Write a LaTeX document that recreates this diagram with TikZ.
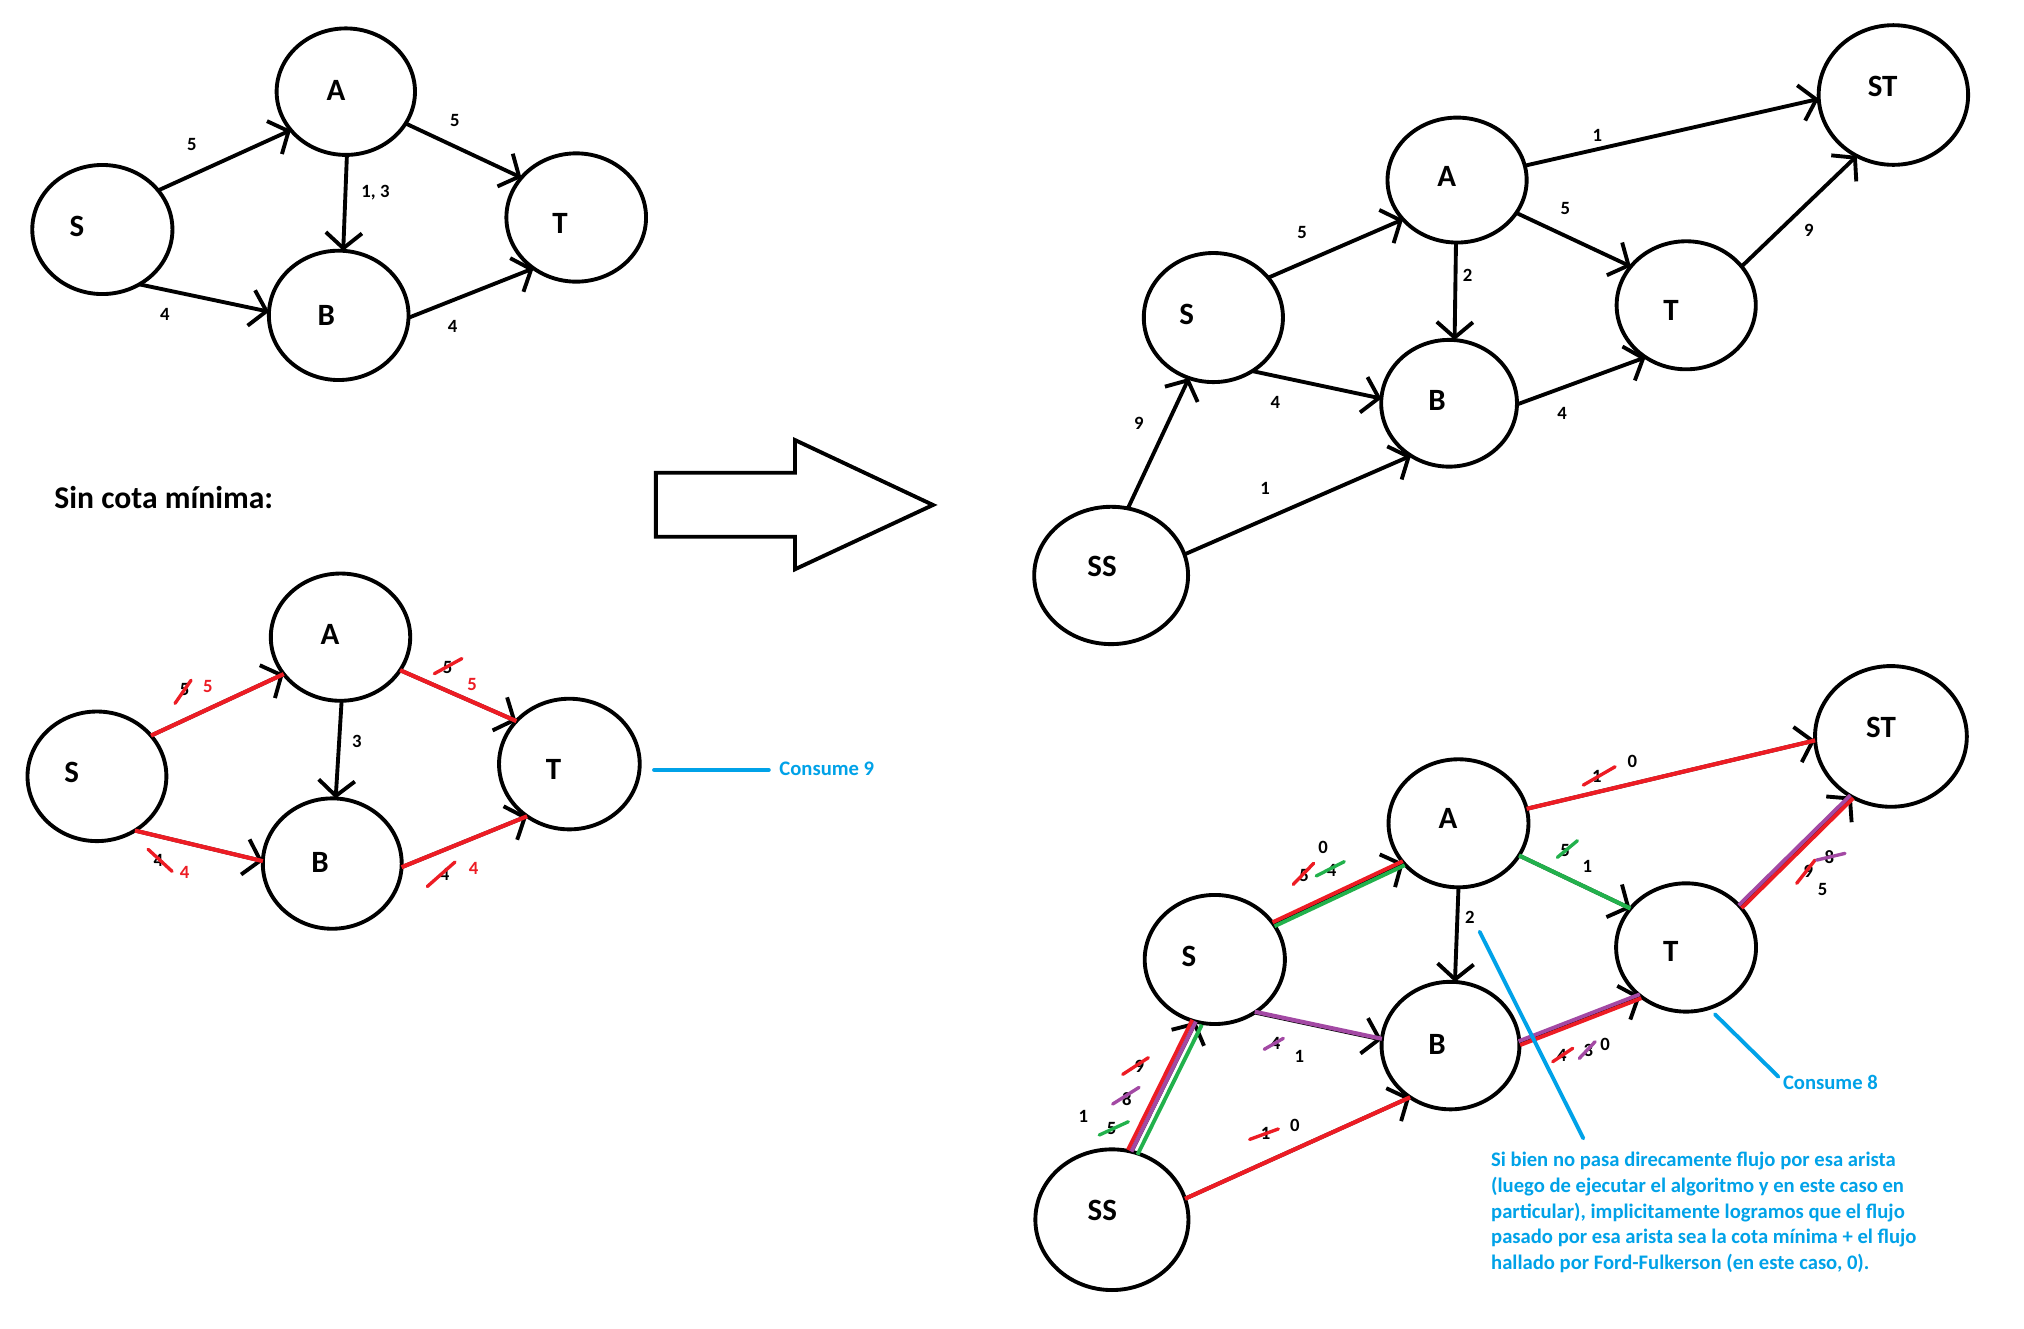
\documentclass[tikz,border=0pt]{standalone}
\usepackage{fontspec}
\setmainfont{Carlito}
\usetikzlibrary{arrows.meta,shapes.geometric}
\definecolor{pred}{HTML}{ED1C24}
\definecolor{pgreen}{HTML}{22B14C}
\definecolor{ppurple}{HTML}{A349A4}
\definecolor{pblue}{HTML}{00A2E8}
\begin{document}
\begin{tikzpicture}[x=1pt,y=-1pt,
  ell/.style={draw,ellipse,line width=3pt,inner sep=0pt,outer sep=0pt},
  nl/.style={inner sep=0pt,font=\fontsize{24}{28}\selectfont\bfseries},
  el/.style={inner sep=0pt,font=\fontsize{14.5}{17}\selectfont\bfseries},
  elr/.style={el,text=pred},
  edg/.style={line width=3pt,-{Straight Barb[length=12pt,width=28pt]}},
  ovred/.style={line width=3.2pt,draw=pred},
  ovgreen/.style={line width=3.2pt,draw=pgreen},
  ovpurple/.style={line width=3.2pt,draw=ppurple},
  slr/.style={line width=2.6pt,line cap=round,draw=pred},
  slg/.style={line width=2.6pt,line cap=round,draw=pgreen},
  slp/.style={line width=2.6pt,line cap=round,draw=ppurple},
  bline/.style={line width=3pt,line cap=round,draw=pblue},
  btext/.style={inner sep=0pt,text=pblue,font=\fontsize{16}{20}\selectfont\bfseries}
  ]
\fill[white] (0,0) rectangle (1568,1029);

% ===== top-left graph =====
\node[ell,minimum width=107.2pt,minimum height=98pt] (tlA) at (267.9,71) {};
\node[ell,minimum width=108.6pt,minimum height=100pt] (tlS) at (79.3,177.8) {};
\node[ell,minimum width=108.2pt,minimum height=100.2pt] (tlB) at (262.4,244.3) {};
\node[ell,minimum width=108.2pt,minimum height=99.4pt] (tlT) at (446.4,168.5) {};
\node[nl] (tlAl) at (260.3,69.7) {A};
\node[nl] (tlSl) at (59.7,175.6) {S};
\node[nl] (tlBl) at (252.7,244) {B};
\node[nl] (tlTl) at (433.9,173) {T};
\draw[edg] (tlS.35) -- (tlA.215);
\draw[edg] (tlA.-28) -- (tlT.144);
\draw[edg] (tlA.-89) -- (tlB.86);
\draw[edg] (tlS.-56) -- (tlB.177);
\draw[edg] (tlB.-2) -- (tlT.-130);
\node[el] (tle1) at (148.6,112.3) {5};
\node[el] (tle2) at (352.3,93.5) {5};
\node[el] (tle3) at (290.9,149.3) {1, 3};
\node[el] (tle4) at (127.7,243.3) {4};
\node[el] (tle5) at (350.6,252.6) {4};

% ===== title =====
\node[anchor=base west,inner sep=0pt,font=\fontsize{24.5}{28}\selectfont\bfseries] (title) at (42,393.8) {Sin cota mínima:};

% ===== big arrow =====
\draw[line width=3pt] (508.1,366.2) -- (615.9,366.2) -- (615.9,340.9) -- (722.8,391.2) -- (615.9,441) -- (615.9,415.8) -- (508.1,415.8) -- cycle;

% ===== bottom-left graph =====
\node[ell,minimum width=108pt,minimum height=98.6pt] (blA) at (263.8,493.6) {};
\node[ell,minimum width=107.6pt,minimum height=100.4pt] (blS) at (75.1,601.4) {};
\node[ell,minimum width=107.6pt,minimum height=101pt] (blB) at (257.4,669) {};
\node[ell,minimum width=109pt,minimum height=101.2pt] (blT) at (441.1,591.9) {};
\node[nl] (blAl) at (255.6,491.7) {A};
\node[nl] (blSl) at (55.6,598.7) {S};
\node[nl] (blBl) at (248,668.1) {B};
\node[nl] (blTl) at (428.9,596.1) {T};
\draw[edg] (blS.37) -- (blA.213);
\draw[edg] (blA.-29) -- (blT.141);
\draw[edg] (blA.-89) -- (blB.87);
\draw[edg] (blS.-55) -- (blB.178);
\draw[edg] (blB.-3) -- (blT.-129);
\draw[ovred] (blS.37) -- (blA.213);
\draw[ovred] (blA.-29) -- (blT.141);
\draw[ovred] (blS.-55) -- (blB.178);
\draw[ovred] (blB.-3) -- (blT.-129);
\node[el] (ble1) at (143,534) {5};
\draw[slr] (135.6,544.9) -- (148,527);
\node[elr] (ble1r) at (161,532) {5};
\node[el] (ble2) at (346.7,516.8) {5};
\draw[slr] (336.5,521.9) -- (357.8,510.2);
\node[elr] (ble2r) at (365.8,529.9) {5};
\node[el] (ble3) at (122.7,666.8) {4};
\draw[slr] (114.7,657.9) -- (133.3,675);
\node[elr] (ble3r) at (143,676) {4};
\node[el] (ble4) at (344.5,677.7) {4};
\draw[slr] (331,686.8) -- (352.5,667.8);
\node[elr] (ble4r) at (367,673) {4};
\node[el] (ble5) at (276.5,574.7) {3};
\node[btext,anchor=west] (c9) at (603.6,595.6) {Consume 9};
\coordinate (c9s) at (506.7,596.5);
\draw[bline] (c9s) -- ([xshift=-8pt,yshift=-0.9pt]c9.west);

% ===== top-right graph =====
\node[ell,minimum width=115.8pt,minimum height=108.2pt] (trST) at (1466.8,73.6) {};
\node[ell,minimum width=107.8pt,minimum height=96.8pt] (trA) at (1128.8,139.5) {};
\node[ell,minimum width=107.8pt,minimum height=100pt] (trS) at (940,246) {};
\node[ell,minimum width=107.8pt,minimum height=99.2pt] (trT) at (1306.3,236.5) {};
\node[ell,minimum width=105.2pt,minimum height=98.2pt] (trB) at (1122.6,312.4) {};
\node[ell,minimum width=119.2pt,minimum height=106.4pt] (trSS) at (860.8,445.8) {};
\node[nl] (trSTl) at (1458.5,66.6) {ST};
\node[nl] (trAl) at (1120.7,136.5) {A};
\node[nl] (trSl) at (919.4,243.8) {S};
\node[nl] (trTl) at (1294.6,240.6) {T};
\node[nl] (trBl) at (1113.3,310.5) {B};
\node[nl] (trSSl) at (853.8,438.9) {SS};
\draw[edg] (trA.12) -- (trST.183);
\draw[edg] (trS.36) -- (trA.216);
\draw[edg] (trA.-29) -- (trT.145);
\draw[edg] (trA.-91) -- (trB.85);
\draw[edg] (trS.-54) -- (trB.176);
\draw[edg] (trB.-1) -- (trT.-128);
\draw[edg] (trT.35) -- (trST.-121);
\draw[edg] (trSS.76) -- (trS.-112);
\draw[edg] (trSS.16) -- (trB.-126);
\node[el] (tre1) at (1237.4,104.7) {1};
\node[el] (tre2) at (1008.8,180.4) {5};
\node[el] (tre3) at (1212.6,161.6) {5};
\node[el] (tre4) at (1137,213.6) {2};
\node[el] (tre5) at (988,311.4) {4};
\node[el] (tre6) at (1210.1,320.2) {4};
\node[el] (tre7) at (1401.4,178.2) {9};
\node[el] (tre8) at (882.2,328.3) {9};
\node[el] (tre9) at (980,378.7) {1};

% ===== bottom-right graph =====
\node[ell,minimum width=117.6pt,minimum height=109pt] (brST) at (1464.9,570.5) {};
\node[ell,minimum width=108.4pt,minimum height=99.2pt] (brA) at (1129.9,637.8) {};
\node[ell,minimum width=108.6pt,minimum height=100pt] (brS) at (941.1,743.3) {};
\node[ell,minimum width=108.4pt,minimum height=99.4pt] (brT) at (1306.2,734) {};
\node[ell,minimum width=106.8pt,minimum height=98.8pt] (brB) at (1123.7,810) {};
\node[ell,minimum width=118.6pt,minimum height=109pt] (brSS) at (861.4,944.9) {};
\node[nl] (brSTl) at (1457.2,563.5) {ST};
\node[nl] (brAl) at (1121.7,634) {A};
\node[nl] (brSl) at (921,740.6) {S};
\node[nl] (brTl) at (1294.3,737.3) {T};
\node[nl] (brBl) at (1113.3,808.8) {B};
\node[nl] (brSSl) at (854,937.4) {SS};
\draw[edg] (brA.12) -- (brST.183);
\draw[edg] (brS.31) -- (brA.-144);
\draw[edg] (brA.-28) -- (brT.145);
\draw[edg] (brA.-90) -- (brB.86);
\draw[edg] (brS.-53) -- (brB.175);
\draw[edg] (brB.2) -- (brT.-133);
\draw[edg] (brT.37) -- (brST.-123);
\draw[edg] (brSS.74) -- (brS.-107);
\draw[edg] (brSS.16) -- (brB.-128);
% overlays
\draw[ovred] (brA.12) -- (brST.183);
\draw[ovred,line width=3pt] ([shift={(-0.7,-1.5)}]brS.31) -- ([shift={(-0.7,-1.5)}]brA.-144);
\draw[ovgreen,line width=3pt] ([shift={(0.8,1.6)}]brS.31) -- ([shift={(0.8,1.6)}]brA.-144);
\draw[ovgreen] (brA.-28) -- (brT.145);
\draw[ovpurple] ([shift={(0,-0.6)}]brS.-53) -- ([shift={(0,-0.6)}]brB.175);
\draw[ovpurple,line width=3pt] ([shift={(-0.6,-1.5)}]brB.2) -- ([shift={(-0.6,-1.5)}]brT.-133);
\draw[ovred,line width=3pt] ([shift={(0.6,1.5)}]brB.2) -- ([shift={(0.6,1.5)}]brT.-133);
\draw[ovpurple,line width=3pt] ([shift={(-1.1,-1.1)}]brT.37) -- ([shift={(-1.1,-1.1)}]brST.-123);
\draw[ovred,line width=3pt] ([shift={(1.1,1.1)}]brT.37) -- ([shift={(1.1,1.1)}]brST.-123);
\draw[ovred,line width=3pt] ([shift={(-2.7,-1.35)}]brSS.74) -- ([shift={(-2.7,-1.35)}]brS.-107);
\draw[ovpurple,line width=3pt] (brSS.74) -- (brS.-107);
\draw[ovgreen,line width=3pt] ([shift={(4.7,2.35)}]brSS.74) -- ([shift={(4.7,2.35)}]brS.-107);
\draw[ovred] (brSS.16) -- (brB.-128);
% labels
\node[el] (bre1) at (1237,601.2) {1};
\draw[slr] (1226.6,608.2) -- (1251.2,594);
\node[el] (bre1b) at (1264.6,590.1) {0};
\node[el] (bre2) at (1212.4,658.5) {5};
\draw[slg] (1206.5,664.2) -- (1222,651.3);
\node[el] (bre2b) at (1229.7,671.4) {1};
\node[el] (bre3) at (1400.9,675.3) {9};
\draw[slr] (1391.9,684.3) -- (1406.1,666.3);
\node[el] (bre3b) at (1417.2,664.2) {8};
\draw[slp] (1407.4,666.3) -- (1429.3,661.1);
\node[el] (bre3c) at (1412,689) {5};
\node[el] (bre4) at (1209.9,817.3) {4};
\draw[slr] (1202.9,822.5) -- (1218.4,812.1);
\node[el] (bre4b) at (1230.5,813.4) {3};
\draw[slp] (1223.5,819.9) -- (1235.7,807);
\node[el] (bre4c) at (1243.4,808.8) {0};
\node[el] (bre5) at (1138.6,710.9) {2};
\node[el] (bre6) at (1025,656.7) {0};
\node[el] (bre6b) at (1010.2,677.9) {5};
\draw[slr] (1001.9,685.1) -- (1017.7,668.8);
\node[el] (bre6c) at (1031.6,674.5) {4};
\draw[slg] (1019.7,678.6) -- (1041.4,667.5);
\node[el] (bre7) at (988.2,808.3) {4};
\draw[slp] (979.4,812.9) -- (994.2,804.4);
\node[el] (bre7b) at (1006.6,818.1) {1};
\node[el] (bre8) at (882.6,826.4) {9};
\draw[slr] (869.8,832.3) -- (889.6,819.4);
\node[el] (bre8b) at (872.9,851.7) {8};
\draw[slp] (862,855.3) -- (882.4,842.4);
\node[el] (bre8c) at (861.2,874.1) {5};
\draw[slg] (851.6,879.3) -- (874.1,869);
\node[el] (bre8d) at (839.3,864.6) {1};
\node[el] (bre9) at (980.5,878) {1};
\draw[slr] (968.1,882.7) -- (990.3,874.6);
\node[el] (bre9b) at (1003.1,872.1) {0};

% ===== annotations =====
\node[btext,anchor=west] (c8) at (1381.1,838.8) {Consume 8};
\coordinate (c8s) at (1328.6,785.8);
\draw[bline] (c8s) -- ([shift={(-3.4,-4.7)}]c8.west);
\node[btext,anchor=north west,align=left] (note) at (1155,889.5)
  {\strut Si bien no pasa direcamente flujo por esa arista\\
   \strut (luego de ejecutar el algoritmo y en este caso en\\
   \strut particular), implicitamente logramos que el flujo\\
   \strut pasado por esa arista sea la cota mínima + el flujo\\
   \strut hallado por Ford-Fulkerson (en este caso, 0).};
\coordinate (ns) at (1146.3,721.8);
\coordinate (ne) at (1226.6,881.9);
\draw[bline] (ns) -- (ne);
\end{tikzpicture}
\end{document}
